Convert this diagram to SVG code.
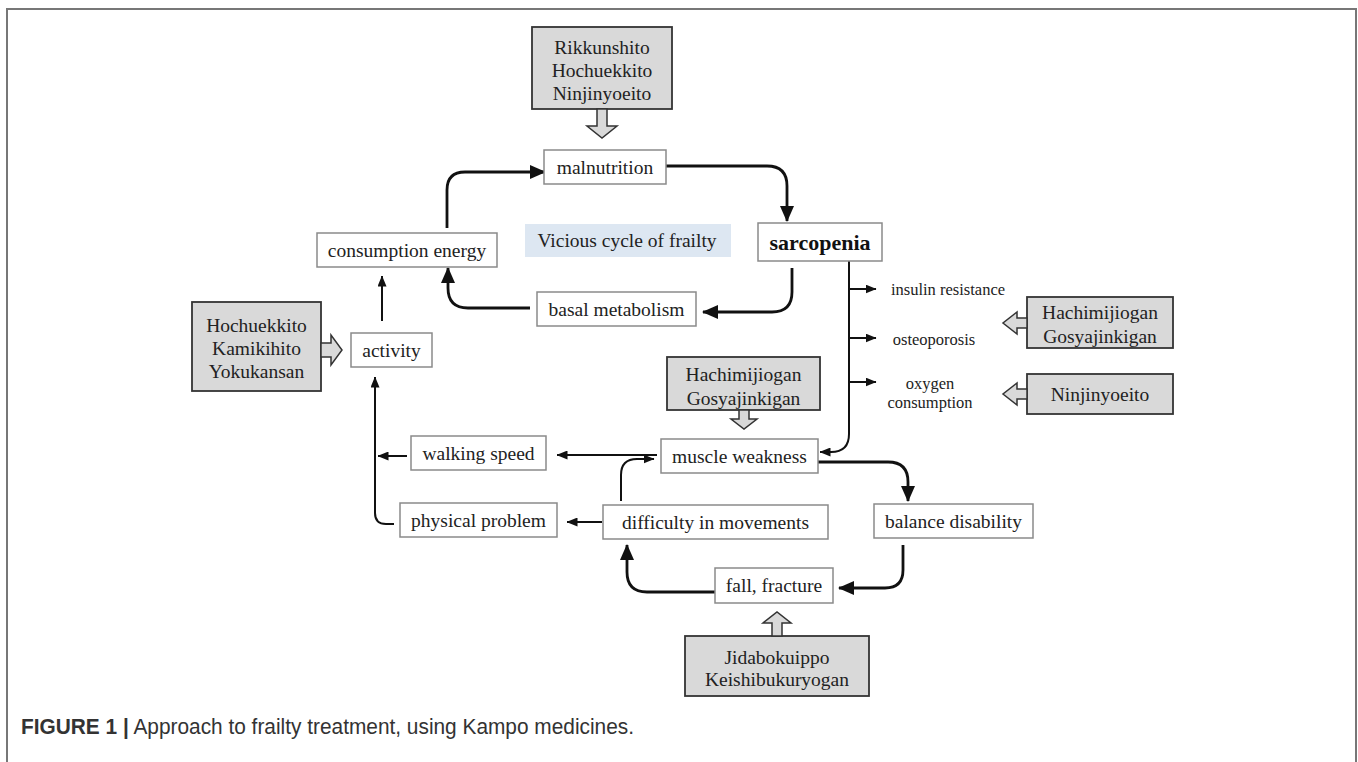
<svg xmlns="http://www.w3.org/2000/svg" width="1358" height="762" viewBox="0 0 1358 762">
<style>
.bg{fill:#ffffff}
.frame{fill:none;stroke:#777;stroke-width:2}
.box{fill:#fff;stroke:#8a8a8a;stroke-width:1.5}
.med{fill:#d9d9d9;stroke:#333;stroke-width:1.8}
.blk{fill:#d9d9d9;stroke:#333;stroke-width:1.5;stroke-linejoin:miter}
.t{font-family:"Liberation Serif","Times New Roman",serif;font-size:19.5px;fill:#222;text-anchor:middle;dominant-baseline:central}
.tb{font-family:"Liberation Serif","Times New Roman",serif;font-size:22px;font-weight:bold;fill:#111;text-anchor:middle;dominant-baseline:central}
.ts{font-family:"Liberation Serif","Times New Roman",serif;font-size:16.5px;fill:#222;text-anchor:middle;dominant-baseline:central}
.thick{fill:none;stroke:#111;stroke-width:2.8;marker-end:url(#hb)}
.thin{fill:none;stroke:#111;stroke-width:2;marker-end:url(#hs)}
.cap{font-family:"Liberation Sans",Arial,sans-serif;font-size:21.5px;fill:#333}
</style>
<defs>
<marker id="hb" markerUnits="userSpaceOnUse" markerWidth="16" markerHeight="14" refX="15" refY="7" orient="auto" viewBox="0 0 16 14">
<path d="M0,0 L16,7 L0,14 z" fill="#111"/>
</marker>
<marker id="hs" markerUnits="userSpaceOnUse" markerWidth="11" markerHeight="9" refX="10.5" refY="4.5" orient="auto" viewBox="0 0 11 9">
<path d="M0,0 L11,4.5 L0,9 z" fill="#111"/>
</marker>
</defs>
<rect class="bg" x="0" y="0" width="1358" height="762"/>
<path class="frame" d="M7,762 V9 H1356 V762"/>

<g id="connectors">
<path class="thick" d="M447,228 V190 Q447,172 465,172 H545"/>
<path class="thick" d="M666,166 H767 Q787,166 787,186 V221"/>
<path class="thick" d="M792,268 V292 Q792,312 772,312 H703"/>
<path class="thick" d="M530,308 H468 Q448,308 448,288 V268"/>
<path class="thin" d="M382,321 V276"/>
<path class="thin" d="M394,524 H386 Q375,524 375,513 V377"/>
<path class="thin" d="M407,456 H378"/>
<path class="thin" d="M657,455 H557"/>
<path class="thin" d="M849,261 V434 Q849,452 831,452 H820"/>
<path class="thin" d="M849,289 H876"/>
<path class="thin" d="M849,338 H876"/>
<path class="thin" d="M849,382 H876"/>
<path class="thin" d="M621,501 V475 Q621,459 637,459 H654"/>
<path class="thin" d="M602,522 H567"/>
<path class="thick" d="M790,462 H888 Q908,462 908,482 V501"/>
<path class="thick" d="M903,545 V570 Q903,588 885,588 H839"/>
<path class="thick" d="M715,592 H647 Q627,592 627,572 V545"/>
</g>

<g id="vicious-label">
<rect x="525" y="224" width="206" height="33" fill="#dde7f2"/>
<text class="t" x="627" y="240">Vicious cycle of frailty</text>
</g>

<g id="malnutrition"><rect class="box" x="544" y="150" width="122" height="34"/><text class="t" x="605" y="167">malnutrition</text></g>
<g id="sarcopenia"><rect class="box" x="758" y="223" width="124" height="38"/><text class="tb" x="820" y="242">sarcopenia</text></g>
<g id="consumption-energy"><rect class="box" x="317" y="233" width="180" height="34"/><text class="t" x="407" y="250">consumption energy</text></g>
<g id="basal-metabolism"><rect class="box" x="537" y="292" width="159" height="34"/><text class="t" x="616.5" y="309">basal metabolism</text></g>
<g id="activity"><rect class="box" x="351" y="333" width="81" height="34"/><text class="t" x="391.5" y="350">activity</text></g>
<g id="walking-speed"><rect class="box" x="411" y="436" width="135" height="34"/><text class="t" x="478.5" y="453">walking speed</text></g>
<g id="physical-problem"><rect class="box" x="400" y="503" width="157" height="34"/><text class="t" x="478.5" y="520">physical problem</text></g>
<g id="muscle-weakness"><rect class="box" x="661" y="439" width="157" height="34"/><text class="t" x="739.5" y="456">muscle weakness</text></g>
<g id="difficulty-in-movements"><rect class="box" x="603" y="505" width="225" height="34"/><text class="t" x="715.5" y="522">difficulty in movements</text></g>
<g id="balance-disability"><rect class="box" x="874" y="504" width="159" height="34"/><text class="t" x="953.5" y="521">balance disability</text></g>
<g id="fall-fracture"><rect class="box" x="715" y="568" width="118" height="35"/><text class="t" x="774" y="585.5">fall, fracture</text></g>

<g id="insulin-resistance"><text class="ts" x="948" y="289">insulin resistance</text></g>
<g id="osteoporosis"><text class="ts" x="934" y="339">osteoporosis</text></g>
<g id="oxygen-consumption"><text class="ts" x="930" y="383">oxygen</text><text class="ts" x="930" y="402">consumption</text></g>

<g id="med-top">
<rect class="med" x="532" y="27" width="140" height="82"/>
<text class="t" x="602" y="47">Rikkunshito</text>
<text class="t" x="602" y="70">Hochuekkito</text>
<text class="t" x="602" y="93">Ninjinyoeito</text>
<polygon class="blk" points="597,109 607,109 607,126 617,126 602,138 587,126 597,126"/>
</g>
<g id="med-left">
<rect class="med" x="192" y="302" width="129" height="89"/>
<text class="t" x="256.5" y="325">Hochuekkito</text>
<text class="t" x="256.5" y="348">Kamikihito</text>
<text class="t" x="256.5" y="371">Yokukansan</text>
<polygon class="blk" points="321,343 331,343 331,335 342,350 331,365 331,357 321,357"/>
</g>
<g id="med-middle">
<rect class="med" x="667" y="357" width="153" height="53"/>
<text class="t" x="743.5" y="374">Hachimijiogan</text>
<text class="t" x="743.5" y="398">Gosyajinkigan</text>
<polygon class="blk" points="739,410 749,410 749,419 757,419 744,429 731,419 739,419"/>
</g>
<g id="med-right-1">
<rect class="med" x="1027" y="297" width="146" height="51"/>
<text class="t" x="1100" y="312">Hachimijiogan</text>
<text class="t" x="1100" y="336">Gosyajinkigan</text>
<polygon class="blk" points="1027,318 1017,318 1017,312 1003,323 1017,334 1017,328 1027,328"/>
</g>
<g id="med-right-2">
<rect class="med" x="1027" y="374" width="146" height="40"/>
<text class="t" x="1100" y="394">Ninjinyoeito</text>
<polygon class="blk" points="1027,389 1017,389 1017,383 1003,394 1017,405 1017,399 1027,399"/>
</g>
<g id="med-bottom">
<rect class="med" x="685" y="636" width="184" height="60"/>
<text class="t" x="777" y="657">Jidabokuippo</text>
<text class="t" x="777" y="679">Keishibukuryogan</text>
<polygon class="blk" points="772,636 782,636 782,623 791,623 777,612 763,623 772,623"/>
</g>

<text class="cap" x="21" y="734" textLength="613" lengthAdjust="spacingAndGlyphs"><tspan font-weight="bold">FIGURE 1 |</tspan> Approach to frailty treatment, using Kampo medicines.</text>
</svg>
